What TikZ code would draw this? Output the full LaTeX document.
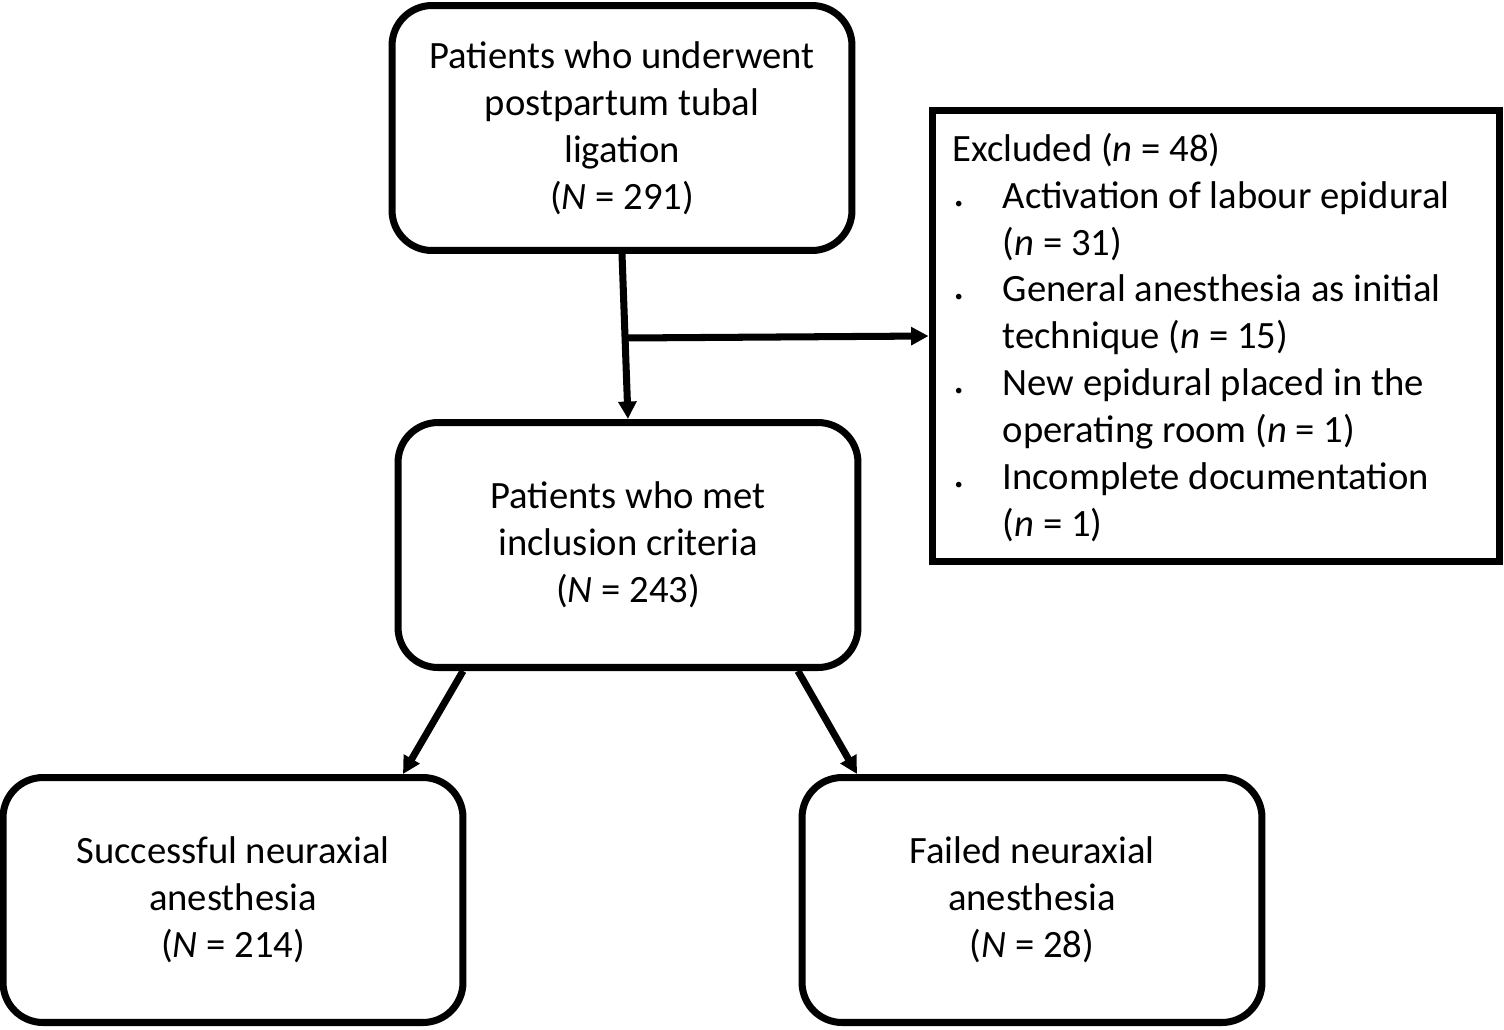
\documentclass[tikz,border=0pt]{standalone}
\usepackage{fontspec}
\setmainfont{Carlito}
\usetikzlibrary{arrows.meta}

\tikzset{
  stepbox/.style={draw, line width=4pt, rounded corners=0.8cm, minimum width=9.2cm, minimum height=4.9cm, align=center},
  exbox/.style={draw, line width=4pt, minimum width=11.36cm, minimum height=9.04cm},
  flow/.style={line width=4pt, -{Triangle[length=0.35cm,width=0.35cm]}}
}
\newcommand{\exbullet}{\hspace{0.05cm}{\small\textbullet}}

\begin{document}
\begin{tikzpicture}[x=0.02cm, y=-0.02cm]
  \fontsize{22}{26.7}\selectfont
  \useasboundingbox (0,0) rectangle (1504,1029);

  % boxes
  \node[stepbox] (all) at (622,128) {Patients who underwent\\postpartum tubal\\ligation\\(\textit{N} = 291)};
  \node[stepbox] (incl) at (628,545) {Patients who met\\inclusion criteria\\(\textit{N} = 243)};
  \node[stepbox] (succ) at (233,900) {Successful neuraxial\\anesthesia\\(\textit{N} = 214)};
  \node[stepbox] (fail) at (1032,900) {Failed neuraxial\\anesthesia\\(\textit{N} = 28)};
  \node[exbox] (excl) at (1216,336) {};
  \node[anchor=north west, inner sep=0pt] (extext) at (952,128) {%
    \begin{tabular}{@{}l@{\hspace{0.8cm}}l@{}}
      \multicolumn{2}{@{}l}{Excluded (\textit{n} = 48)}\\
      \exbullet & Activation of labour epidural\\
       & (\textit{n} = 31)\\
      \exbullet & General anesthesia as initial\\
       & technique (\textit{n} = 15)\\
      \exbullet & New epidural placed in the\\
       & operating room (\textit{n} = 1)\\
      \exbullet & Incomplete documentation\\
       & (\textit{n} = 1)
    \end{tabular}};

  % connectors
  \coordinate (split) at (625,338);
  \draw[flow] (all.south) -- (incl.north);
  \draw[flow] (split) -- (excl.west);
  \draw[flow] ([xshift=-3.3cm]incl.south) -- ([xshift=3.4cm]succ.north);
  \draw[flow] ([xshift=3.4cm]incl.south) -- ([xshift=-3.5cm]fail.north);
\end{tikzpicture}
\end{document}
